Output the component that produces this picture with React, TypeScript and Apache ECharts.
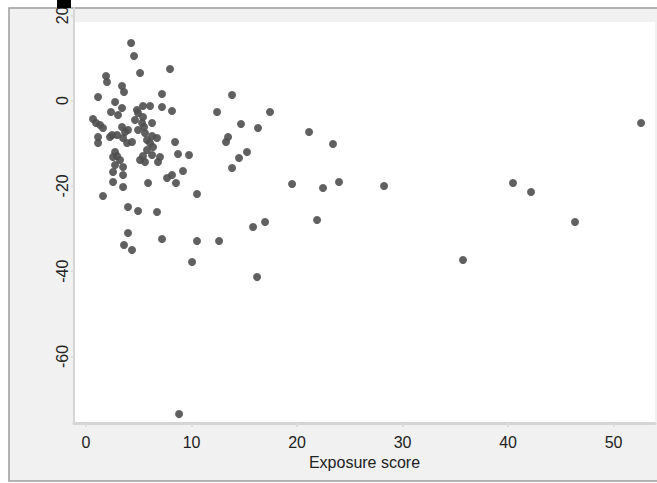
import { useEffect, useRef } from "react";
import * as echarts from "echarts";

// Exposure score (x) of each observation
const exposureScore: number[] = [
  // dense cluster
  2.75, 3.41, 2.37, 3.03, 4.83, 5.4, 6.07, 7.2, 4.93, 5.4,
  0.66, 0.95, 1.33, 1.61, 3.41, 3.7, 3.98, 4.64, 5.31, 6.26,
  5.5, 4.93, 2.46, 2.94, 2.27, 3.51, 1.14, 1.14, 3.89, 4.36,
  5.59, 6.26, 5.78, 6.73, 6.07, 6.35, 5.78, 6.26, 2.75, 2.94,
  3.22, 2.75, 3.51, 5.12, 5.59, 5.4, 2.56,
  // remaining points
  4.27, 4.55, 5.12, 7.96, 1.9, 1.99, 1.14, 3.41, 3.6, 7.2,
  13.84, 12.42, 17.44, 8.15, 14.69, 16.3, 21.14, 23.41, 13.46, 13.27,
  8.44, 8.72, 9.76, 15.26, 14.5, 13.84, 9.19, 8.15, 8.53, 10.52,
  19.53, 22.46, 23.98, 28.25, 40.47, 42.18, 46.35, 52.61, 21.9, 16.97,
  15.83, 10.52, 12.61, 7.2, 3.98, 3.6, 4.36, 10.05, 16.21, 35.73,
  8.82, 1.61, 3.98, 4.93, 6.73, 5.88, 2.56, 3.51, 2.56, 3.51,
  7.68, 7.01, 6.82,
];

// Outcome value (y) of each observation
const outcomeValue: number[] = [
  // dense cluster
  -0.35, -1.76, -2.7, -3.4, -2.23, -1.29, -1.29, -1.52, -2.93, -3.87,
  -4.34, -5.28, -5.74, -6.45, -6.21, -7.39, -6.92, -4.57, -5.28, -5.28,
  -6.21, -6.92, -8.09, -8.09, -8.56, -8.79, -8.56, -9.96, -9.96, -9.73,
  -7.62, -8.32, -9.26, -8.79, -9.96, -10.9, -11.61, -12.78, -12.08, -13.01,
  -13.95, -15.12, -15.59, -13.95, -14.42, -13.01, -13.25,
  // remaining points
  13.48, 10.43, 6.45, 7.39, 5.74, 4.34, 0.82, 3.4, 1.99, 1.52,
  1.29, -2.7, -2.7, -2.46, -5.51, -6.45, -7.39, -10.2, -8.56, -9.73,
  -9.73, -12.54, -12.78, -12.07, -13.48, -15.83, -16.53, -17.47, -19.34, -21.92,
  -19.58, -20.52, -19.11, -20.05, -19.34, -21.45, -28.49, -5.28, -28.02, -28.49,
  -29.66, -32.94, -32.94, -32.47, -31.07, -33.88, -35.05, -37.87, -41.39, -37.4,
  -73.51, -22.39, -24.97, -25.91, -26.14, -19.34, -19.11, -20.28, -16.76, -17.47,
  -18.17, -13.25, -14.42,
];

const xTicks = [0, 10, 20, 30, 40, 50];
const yTicks = [-60, -40, -20, 0, 20];
const xTitle = "Exposure score";

const FONT = "'Liberation Sans', Arial, Helvetica, sans-serif";

export default function App() {
  const ref = useRef<HTMLDivElement>(null);

  useEffect(() => {
    document.body.style.margin = "0";
    if (!ref.current) return;
    const chart = echarts.init(ref.current, null, { renderer: "svg" });
    const points = exposureScore.map((x, i) => [x, outcomeValue[i]]);
    chart.setOption({
      animation: false,
      backgroundColor: "#ffffff",
      graphic: {
        elements: [
          {
            type: "rect",
            z: -20,
            shape: { x: 9, y: 8, width: 660, height: 473 },
            style: { fill: "#f1f1f1", stroke: "#9c9c9c", lineWidth: 1.5 },
          },
          {
            type: "rect",
            z: -19,
            shape: { x: 74, y: 22, width: 581, height: 401 },
            style: { fill: "#ffffff" },
          },
          {
            type: "rect",
            z: 50,
            shape: { x: 57, y: 0, width: 14, height: 8 },
            style: { fill: "#000000" },
          },
        ],
      },
      grid: { left: 74, right: 2, top: 8, bottom: 60, containLabel: false },
      xAxis: {
        type: "value",
        min: -1.14,
        max: 53.93,
        name: xTitle,
        nameLocation: "middle",
        nameGap: 30,
        nameTextStyle: { fontSize: 16, color: "#222222", fontFamily: FONT },
        axisLine: { show: true, onZero: false, lineStyle: { color: "#d6d6d6", width: 3 } },
        axisTick: {
          show: true,
          customValues: xTicks,
          length: 4,
          lineStyle: { color: "#dddddd", width: 2 },
        },
        axisLabel: {
          customValues: xTicks,
          fontSize: 16,
          color: "#222222",
          fontFamily: FONT,
          margin: 11,
        },
        splitLine: { show: false },
      },
      yAxis: {
        type: "value",
        min: -75.6,
        max: 21.7,
        axisLine: { show: true, onZero: false, lineStyle: { color: "#d6d6d6", width: 2 } },
        axisTick: {
          show: true,
          customValues: yTicks,
          length: 3,
          lineStyle: { color: "#dddddd", width: 2 },
        },
        axisLabel: {
          customValues: yTicks,
          rotate: 90,
          fontSize: 16,
          color: "#222222",
          fontFamily: FONT,
          margin: 4,
        },
        splitLine: { show: false },
      },
      series: [
        {
          type: "scatter",
          data: points,
          symbol: "circle",
          symbolSize: 8,
          itemStyle: { color: "#4f4f4f", opacity: 0.9 },
        },
      ],
    });
    return () => chart.dispose();
  }, []);

  return <div ref={ref} style={{ width: 657, height: 483 }} />;
}
